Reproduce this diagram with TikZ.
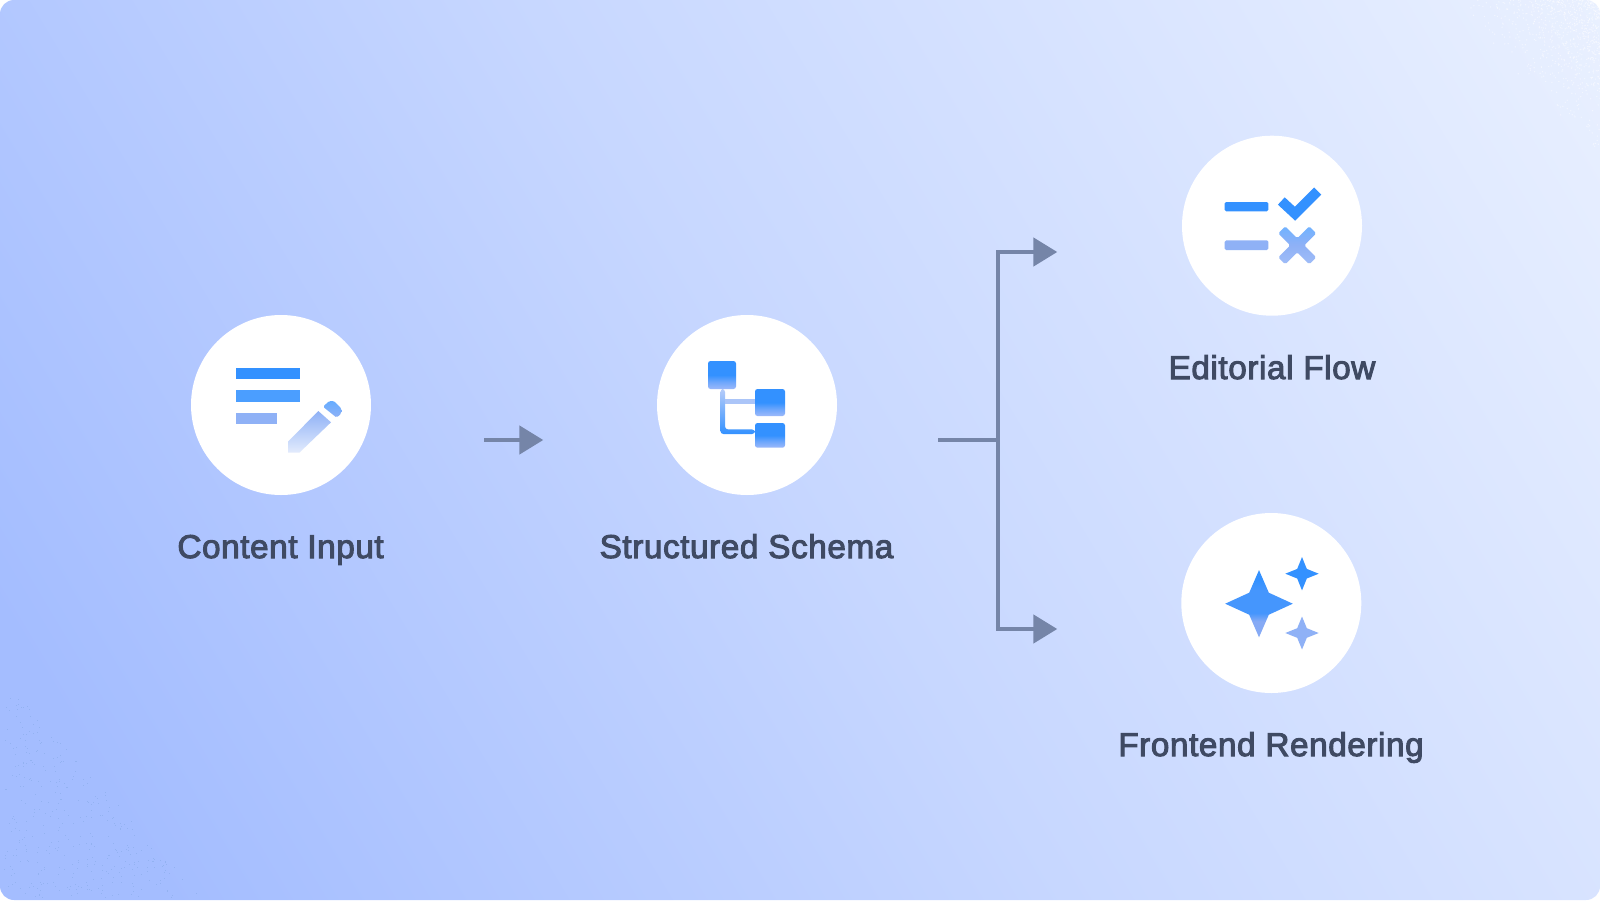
\documentclass[tikz,border=0pt]{standalone}
\usepackage{fontspec}
\setmainfont{Liberation Sans}[FakeBold=3,FakeStretch=1.01,LetterSpace=1.7]
\usetikzlibrary{arrows.meta}
\definecolor{iconblue}{HTML}{3391FF}
\definecolor{iconsoft}{HTML}{8FB1F6}
\definecolor{flowgrey}{HTML}{7585A8}
\definecolor{labelink}{HTML}{3F4A63}
\definecolor{c0}{HTML}{A4BDFF}
\definecolor{cm}{HTML}{C7D7FF}
\definecolor{c1}{HTML}{E9F0FF}
\definecolor{c2}{HTML}{93B2F1}
\definecolor{boxlow}{HTML}{9DB9FA}
\definecolor{boxmid}{HTML}{6CA6FC}
\definecolor{starlow}{HTML}{86AAF5}
\definecolor{starmid}{HTML}{4596FD}
\pgfdeclarehorizontalshading{bgshade}{100bp}{
  color(0bp)=(c0);
  color(29bp)=(c0);
  color(50bp)=(cm);
  color(75bp)=(c1);
  color(100bp)=(c1)}
\pgfdeclareverticalshading{boxgrad}{100bp}{
  color(0bp)=(boxlow);
  color(25bp)=(boxlow);
  color(38bp)=(boxmid);
  color(50bp)=(iconblue);
  color(100bp)=(iconblue)}
\pgfdeclareverticalshading{bigstar}{100bp}{
  color(0bp)=(starlow);
  color(37bp)=(starlow);
  color(43bp)=(starmid);
  color(60bp)=(starmid);
  color(68bp)=(iconblue);
  color(100bp)=(iconblue)}
\tikzset{
  disc/.style={circle,fill=white,minimum size=180pt,inner sep=0pt,outer sep=0pt},
  lab/.style={text=labelink,inner sep=0pt,anchor=base,font=\fontsize{33}{38}\selectfont},
  flow/.style={draw=flowgrey,line width=4.67pt},
  flowtip/.style={flow,-{Triangle[length=24pt,width=28pt,fill=flowgrey]}},
  schemabox/.style={shading=boxgrad,rounded corners=2.5pt},
}
\begin{document}
\begin{tikzpicture}[x=1pt,y=-1pt]
\useasboundingbox (0,0) rectangle (1600,900);
\fill[white] (0,0) rectangle (1600,900);
\begin{scope}
\clip[rounded corners=14pt] (0,0) rectangle (1600,900);
\shade[shading=bgshade,shading angle=31] (-118,-468) rectangle (1718,1368);
% dotted texture, bottom-left corner
\pgfmathsetseed{7}
\foreach \i in {1,...,360}{
  \pgfmathsetmacro\ua{rnd}\pgfmathsetmacro\va{rnd}
  \pgfmathsetmacro\ub{(\ua+\va>1)?1-\ua:\ua}
  \pgfmathsetmacro\vb{(\ua+\va>1)?1-\va:\va}
  \fill[fill=c2] ({4+198*\ub},{897-218*\vb}) rectangle ++(.9,.9);
}
% dotted texture, top-right corner
\foreach \i in {1,...,800}{
  \pgfmathsetmacro\ua{rnd}\pgfmathsetmacro\va{rnd}\pgfmathsetmacro\sa{sqrt(rnd)}
  \pgfmathsetmacro\ub{\sa*((\ua+\va>1)?1-\ua:\ua)}
  \pgfmathsetmacro\vb{\sa*((\ua+\va>1)?1-\va:\va)}
  \fill[white,opacity=.5] ({1600-150*\ub},{170*\vb}) circle[radius=.7];
}
\end{scope}

% circles
\node[disc] (input) at (281,405) {};
\node[disc] (schema) at (747,405) {};
\node[disc] (editorial) at (1272,225.7) {};
\node[disc] (frontend) at (1271.3,603) {};

% labels
\node[lab] (inputlabel) at (280.6,558) {Content Input};
\node[lab] (schemalabel) at (746.5,558) {Structured Schema};
\node[lab] (editoriallabel) at (1272,379) {Editorial Flow};
\node[lab] (frontendlabel) at (1271,756) {Frontend Rendering};

% icon: content input
\fill[iconblue] (236,368) rectangle (300,379.3);
\fill[iconblue!88!white] (236,390.3) rectangle (300,401.7);
\fill[iconsoft] (236,413.3) rectangle (276.7,424.3);
\shade[top color=iconsoft,middle color=iconsoft!85!white,bottom color=iconsoft!25!white]
  (318.3,411) -- (331,422.3) -- (299.3,452.7) -- (288,452.7) -- (288,441.7) -- cycle;
\shade[top color=iconblue!75!white,bottom color=iconsoft,rounded corners=1.5pt]
  (323,406.7) -- (329.3,401) -- (334,401) -- (341.3,408.3) -- (341.3,413.3) -- (336.7,417.7) -- cycle;

% icon: structured schema
\shade[top color=iconsoft!65!white,middle color=iconblue!80!white,bottom color=iconblue,rounded corners=3pt]
  (720.4,389) -- (720.4,434) -- (755,434) -- (755,429.4) -- (725,429.4) -- (725,389) -- cycle;
\fill[iconsoft!75!white] (725,399) rectangle (755,403.7);
\shade[schemabox] (708,361) rectangle (736,389);
\shade[schemabox] (755,389) rectangle (785,416);
\shade[schemabox] (755,423) rectangle (785,447.7);

% icon: editorial flow
\fill[iconblue,rounded corners=1.5pt] (1224.7,202) rectangle (1268.3,211.3);
\fill[iconsoft,rounded corners=1.5pt] (1224.7,240.3) rectangle (1268.3,250);
\draw[iconblue,line width=10pt,line join=miter] (1281.3,201) -- (1295,213.7) -- (1317.7,191);
\shade[top color=iconblue!70!white,bottom color=iconsoft!85!white,middle color=iconsoft,rounded corners=1.5pt,shift={(1297.2,245.3)}]
  (-19,-12) -- (-12,-19) -- (0,-7) -- (12,-19) -- (19,-12) -- (7,0)
  -- (19,12) -- (12,19) -- (0,7) -- (-12,19) -- (-19,12) -- (-7,0) -- cycle;

% icon: frontend rendering
\shade[shading=bigstar,shift={(1259,603.7)}]
  (0,-33.6) -- (9.8,-11) -- (33.8,0) -- (9.8,11) -- (0,33.6) -- (-9.8,11) -- (-33.8,0) -- (-9.8,-11) -- cycle;
\fill[iconblue,shift={(1302,573.7)}]
  (0,-16.7) -- (4.8,-4.8) -- (16.7,0) -- (4.8,4.8) -- (0,16.7) -- (-4.8,4.8) -- (-16.7,0) -- (-4.8,-4.8) -- cycle;
\fill[iconsoft,shift={(1302,633)}]
  (0,-16.5) -- (4.8,-4.8) -- (16.7,0) -- (4.8,4.8) -- (0,16.5) -- (-4.8,4.8) -- (-16.7,0) -- (-4.8,-4.8) -- cycle;

% connectors
\coordinate (firststart) at (484,440);
\coordinate (firstend) at (543.3,440);
\coordinate (stem) at (938,440);
\coordinate (fork) at (998,440);
\coordinate (uptip) at (1057.3,252);
\coordinate (downtip) at (1057.3,629);
\draw[flowtip] (firststart) -- (firstend);
\draw[flow] (stem) -- (fork);
\draw[flowtip] (fork) |- (uptip);
\draw[flowtip] (fork) |- (downtip);
\end{tikzpicture}
\end{document}
